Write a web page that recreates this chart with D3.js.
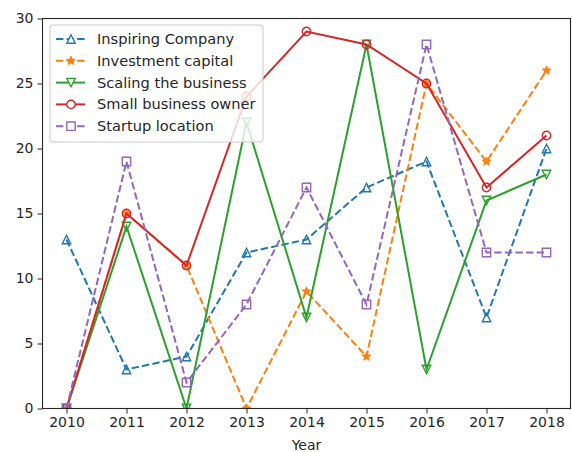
<!DOCTYPE html>
<html>
<head>
<meta charset="utf-8">
<script src="https://cdn.jsdelivr.net/npm/d3@7"></script>
<style>
  body { margin: 0; background: #fff; }
  text { font-family: "DejaVu Sans", sans-serif; fill: #262626; }
</style>
</head>
<body>
<script>
const w = 572;
const h = 452;
const margin = {left: 42.5, right: 1.5, top: 18.5, bottom: 43.5};

// data
const years = [2010, 2011, 2012, 2013, 2014, 2015, 2016, 2017, 2018];
const inspiringCompany = [13, 3, 4, 12, 13, 17, 19, 7, 20];
const investmentCapital = [0, 15, 11, 0, 9, 4, 25, 19, 26];
const scalingBusiness = [0, 14, 0, 22, 7, 28, 3, 16, 18];
const smallBusinessOwner = [0, 15, 11, 24, 29, 28, 25, 17, 21];
const startupLocation = [0, 19, 2, 8, 17, 8, 28, 12, 12];
const yTicks = [0, 5, 10, 15, 20, 25, 30];

const series = [
  {name: "Inspiring Company", values: inspiringCompany, color: "#1f77b4", dash: true, marker: "triUp"},
  {name: "Investment capital", values: investmentCapital, color: "#ff7f0e", dash: true, marker: "star"},
  {name: "Scaling the business", values: scalingBusiness, color: "#2ca02c", dash: false, marker: "triDown"},
  {name: "Small business owner", values: smallBusinessOwner, color: "#d62728", dash: false, marker: "circle"},
  {name: "Startup location", values: startupLocation, color: "#9467bd", dash: true, marker: "square"}
];

let svg = d3.select("body").append("svg")
  .attr("width", w)
  .attr("height", h);

const x = d3.scaleLinear()
  .domain([2009.6, 2018.4])
  .range([margin.left, w - margin.right]);
const y = d3.scaleLinear()
  .domain([0, 30])
  .range([h - margin.bottom, margin.top]);

svg.append("defs").append("clipPath").attr("id", "clip")
  .append("rect")
  .attr("x", margin.left).attr("y", margin.top)
  .attr("width", w - margin.left - margin.right)
  .attr("height", h - margin.top - margin.bottom);

// marker shapes, centred at 0,0
function markerPath(type) {
  const r = 4.2;
  if (type == "triUp") return `M0,${-r}L${r},${r}L${-r},${r}Z`;
  if (type == "triDown") return `M0,${r}L${r},${-r}L${-r},${-r}Z`;
  if (type == "square") return `M${-r},${-r}H${r}V${r}H${-r}Z`;
  if (type == "circle") return d3.symbol(d3.symbolCircle, Math.PI * r * r)();
  if (type == "star") {
    let pts = [];
    for (let i = 0; i < 10; i++) {
      const rr = i % 2 == 0 ? 4.6 : 2.0;
      const a = -Math.PI / 2 + i * Math.PI / 5;
      pts.push([rr * Math.cos(a), rr * Math.sin(a)]);
    }
    return "M" + pts.map(p => p.join(",")).join("L") + "Z";
  }
}

const plot = svg.append("g").attr("clip-path", "url(#clip)");

const line = d3.line()
  .x((d, i) => x(years[i]))
  .y(d => y(d));

series.forEach(function (s) {
  const g = plot.append("g");
  g.append("path")
    .datum(s.values)
    .attr("fill", "none")
    .attr("stroke", s.color)
    .attr("stroke-width", 2)
    .attr("stroke-dasharray", s.dash ? "7.4,3.2" : null)
    .attr("d", line);
  g.selectAll("path.m")
    .data(s.values)
    .enter().append("path")
    .attr("class", "m")
    .attr("transform", (d, i) => "translate(" + x(years[i]) + "," + y(d) + ")")
    .attr("d", markerPath(s.marker))
    .attr("fill", s.marker == "star" ? s.color : "none")
    .attr("stroke", s.color)
    .attr("stroke-width", s.marker == "star" ? 1 : 1.4);
});

// frame
svg.append("rect")
  .attr("x", margin.left).attr("y", margin.top)
  .attr("width", w - margin.left - margin.right)
  .attr("height", h - margin.top - margin.bottom)
  .attr("fill", "none")
  .attr("stroke", "#262626")
  .attr("stroke-width", 1.1);

// x axis
const xAxis = svg.append("g")
  .attr("transform", "translate(0," + (h - margin.bottom) + ")")
  .call(d3.axisBottom(x).tickValues(years).tickFormat(d3.format("d")).tickSize(5).tickPadding(4));
xAxis.select(".domain").remove();
xAxis.selectAll("text").style("font-size", "14px").style("font-family", "DejaVu Sans");
xAxis.selectAll("line").attr("stroke", "#262626");

svg.append("text")
  .attr("x", (margin.left + w - margin.right) / 2)
  .attr("y", 450)
  .attr("text-anchor", "middle")
  .style("font-size", "14px")
  .text("Year");

// y axis
const yAxis = svg.append("g")
  .attr("transform", "translate(" + margin.left + ",0)")
  .call(d3.axisLeft(y).tickValues(yTicks).tickSize(5).tickPadding(4));
yAxis.select(".domain").remove();
yAxis.selectAll("text").style("font-size", "14px").style("font-family", "DejaVu Sans");
yAxis.selectAll("line").attr("stroke", "#262626");

// legend
const legend = svg.append("g").attr("transform", "translate(50,25)");
legend.append("rect")
  .attr("width", 213).attr("height", 117)
  .attr("rx", 3)
  .attr("fill", "white").attr("fill-opacity", 0.8)
  .attr("stroke", "#cccccc");
series.forEach(function (s, i) {
  const ly = 14 + i * 21.8;
  legend.append("line")
    .attr("x1", 6).attr("x2", 35)
    .attr("y1", ly).attr("y2", ly)
    .attr("stroke", s.color).attr("stroke-width", 2)
    .attr("stroke-dasharray", s.dash ? "7.4,3.2" : null);
  legend.append("path")
    .attr("transform", "translate(21," + ly + ")")
    .attr("d", markerPath(s.marker))
    .attr("fill", s.marker == "star" ? s.color : "white")
    .attr("stroke", s.color)
    .attr("stroke-width", s.marker == "star" ? 1 : 1.4);
  legend.append("text")
    .attr("x", 47).attr("y", ly + 5)
    .style("font-size", "14.6px")
    .text(s.name);
});
</script>
</body>
</html>
